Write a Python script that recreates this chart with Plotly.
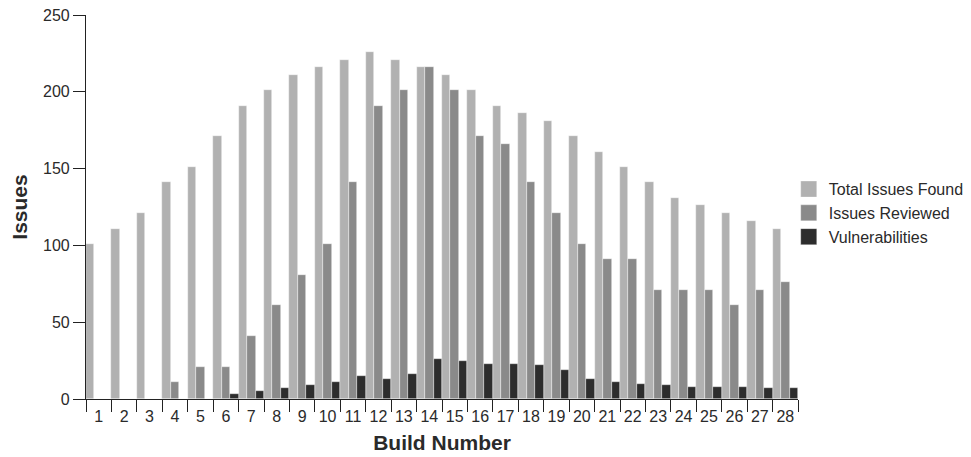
import plotly.graph_objects as go

builds = [str(i) for i in range(1, 29)]
total_found = [101, 111, 121, 141, 151, 171, 191, 201, 211, 216, 221, 226, 221, 216,
               211, 201, 191, 186, 181, 171, 161, 151, 141, 131, 126, 121, 116, 111]
reviewed = [0, 0, 0, 11, 21, 21, 41, 61, 81, 101, 141, 191, 201, 216,
            201, 171, 166, 141, 121, 101, 91, 91, 71, 71, 71, 61, 71, 76]
vulns = [0, 0, 0, 0, 0, 3, 5, 7, 9, 11, 15, 13, 16, 26,
         25, 23, 23, 22, 19, 13, 11, 10, 9, 8, 8, 8, 7, 7]
y_ticks = [0, 50, 100, 150, 200, 250]

FONT = "Liberation Sans, Arial, Helvetica, sans-serif"
TXT = "#2a2a2a"

series = [("Total Issues Found", total_found, "#b1b1b1"),
          ("Issues Reviewed", reviewed, "#8a8a8a"),
          ("Vulnerabilities", vulns, "#2d2d2d")]

fig = go.Figure()
for name, vals, col in series:
    fig.add_trace(go.Bar(x=builds, y=vals, name=name, showlegend=False, legendgroup=name,
                         marker=dict(color=col, line=dict(color="rgba(255,255,255,0.7)", width=0.6))))
# legend proxies with larger square swatches
for name, vals, col in series:
    fig.add_trace(go.Scatter(x=[None], y=[None], mode="markers", name=name, legendgroup=name,
                             marker=dict(symbol="square", size=16, color=col,
                                         line=dict(color="rgba(255,255,255,0.6)", width=0.5))))

fig.update_layout(
    width=963, height=449,
    margin=dict(l=78, r=173, t=7, b=57.5, autoexpand=False),
    paper_bgcolor="white", plot_bgcolor="white",
    barmode="group", bargap=0, bargroupgap=0,
    font=dict(family=FONT, size=16, color=TXT),
    showlegend=True,
    legend=dict(x=0.987, xanchor="left", y=0.484, yanchor="middle",
                font=dict(size=16, color=TXT), bgcolor="rgba(0,0,0,0)",
                tracegroupgap=0, itemwidth=30),
)
fig.update_xaxes(
    type="category", tickson="boundaries", ticks="outside", ticklen=12,
    tickwidth=1.2, tickcolor="#222", showline=True, linecolor="#222", linewidth=1.2,
    showgrid=False, zeroline=False, ticklabelstandoff=3, tickangle=0, automargin=False,
    tickfont=dict(size=16, color=TXT),
    title=dict(text="<b>Build Number</b>", font=dict(size=21, color=TXT), standoff=11),
)
fig.update_yaxes(
    range=[0, 250], tickmode="array", tickvals=y_ticks, ticks="outside", ticklen=12,
    tickwidth=1.2, tickcolor="#222", showline=True, linecolor="#222", linewidth=1.2,
    showgrid=False, zeroline=False, automargin=False, ticklabeloverflow="allow",
    tickfont=dict(size=16, color=TXT),
    title=dict(text="<b>Issues</b>", font=dict(size=21, color=TXT), standoff=19),
)

fig.write_html("out.html")
